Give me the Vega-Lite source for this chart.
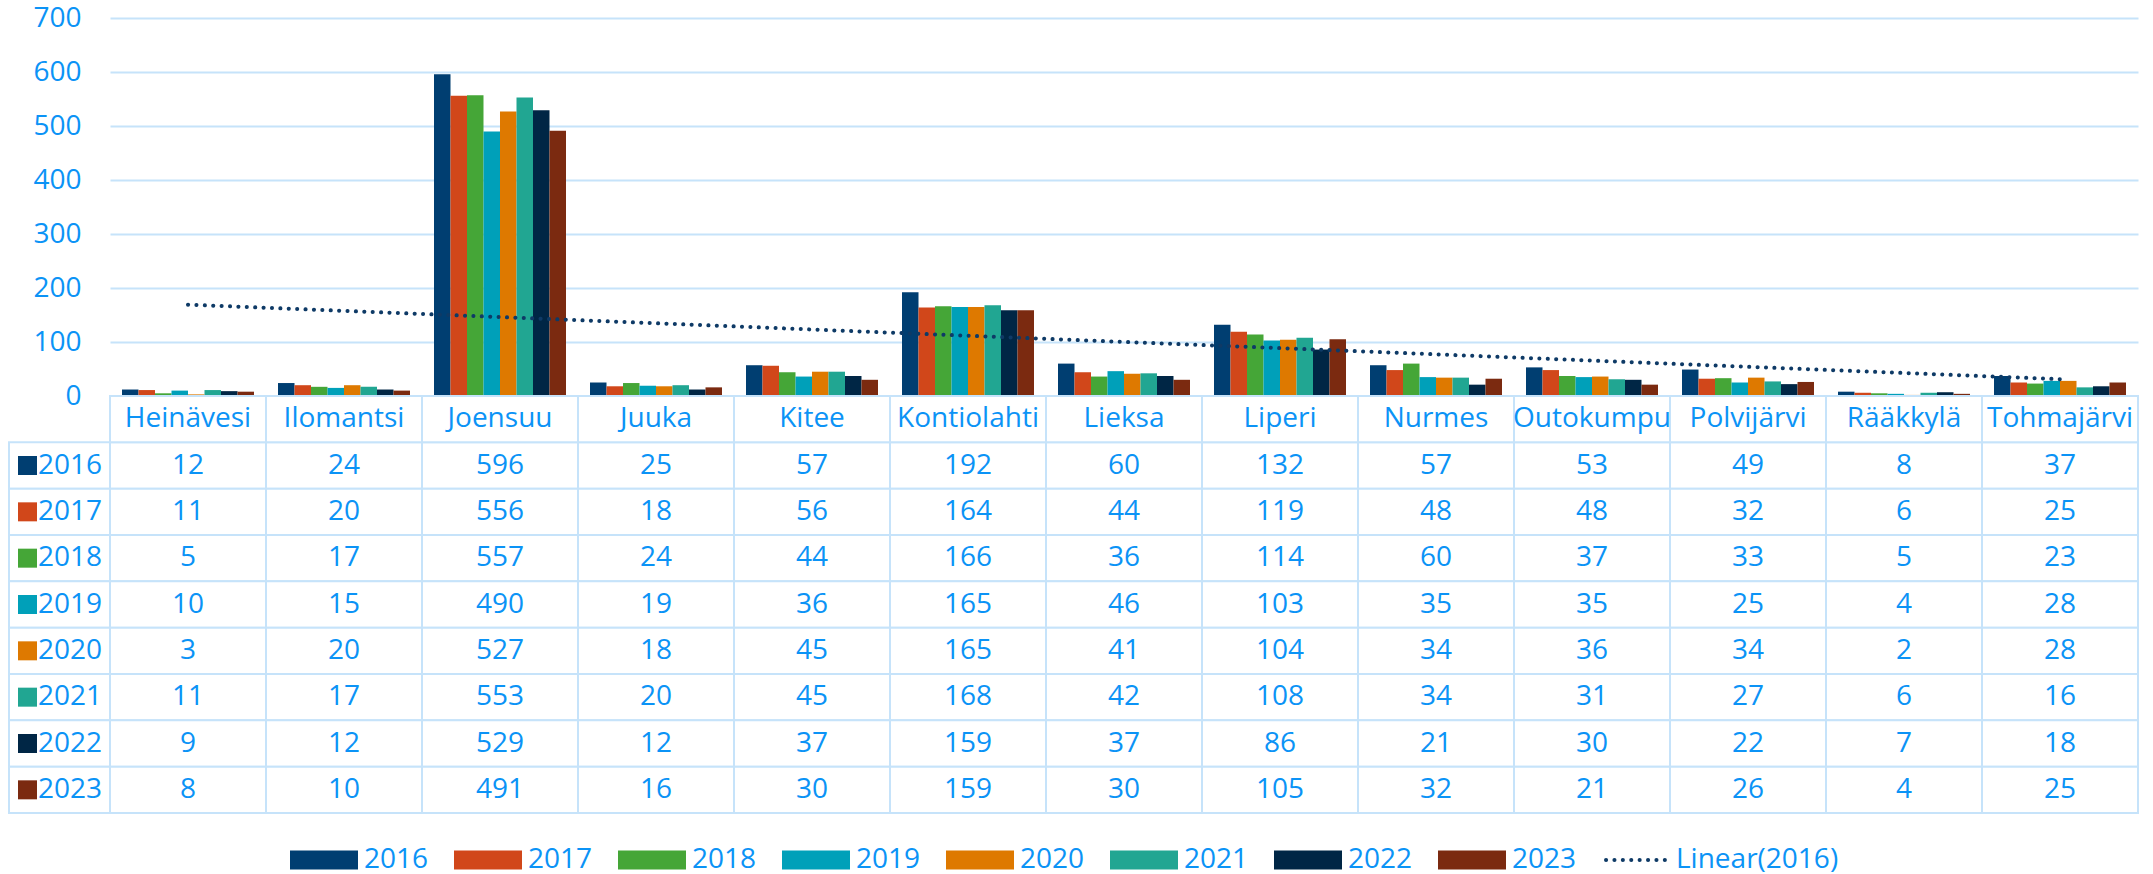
{
  "$schema": "https://vega.github.io/schema/vega-lite/v6.json",
  "background": "white",
  "padding": {"left": 8, "top": 4, "right": 16, "bottom": 0},
  "bounds": "flush",
  "spacing": 0,
  "columns": 2,
  "datasets": {
    "counts": [
      {"municipality": "Heinävesi", "year": "2016", "value": 12},
      {"municipality": "Ilomantsi", "year": "2016", "value": 24},
      {"municipality": "Joensuu", "year": "2016", "value": 596},
      {"municipality": "Juuka", "year": "2016", "value": 25},
      {"municipality": "Kitee", "year": "2016", "value": 57},
      {"municipality": "Kontiolahti", "year": "2016", "value": 192},
      {"municipality": "Lieksa", "year": "2016", "value": 60},
      {"municipality": "Liperi", "year": "2016", "value": 132},
      {"municipality": "Nurmes", "year": "2016", "value": 57},
      {"municipality": "Outokumpu", "year": "2016", "value": 53},
      {"municipality": "Polvijärvi", "year": "2016", "value": 49},
      {"municipality": "Rääkkylä", "year": "2016", "value": 8},
      {"municipality": "Tohmajärvi", "year": "2016", "value": 37},
      {"municipality": "Heinävesi", "year": "2017", "value": 11},
      {"municipality": "Ilomantsi", "year": "2017", "value": 20},
      {"municipality": "Joensuu", "year": "2017", "value": 556},
      {"municipality": "Juuka", "year": "2017", "value": 18},
      {"municipality": "Kitee", "year": "2017", "value": 56},
      {"municipality": "Kontiolahti", "year": "2017", "value": 164},
      {"municipality": "Lieksa", "year": "2017", "value": 44},
      {"municipality": "Liperi", "year": "2017", "value": 119},
      {"municipality": "Nurmes", "year": "2017", "value": 48},
      {"municipality": "Outokumpu", "year": "2017", "value": 48},
      {"municipality": "Polvijärvi", "year": "2017", "value": 32},
      {"municipality": "Rääkkylä", "year": "2017", "value": 6},
      {"municipality": "Tohmajärvi", "year": "2017", "value": 25},
      {"municipality": "Heinävesi", "year": "2018", "value": 5},
      {"municipality": "Ilomantsi", "year": "2018", "value": 17},
      {"municipality": "Joensuu", "year": "2018", "value": 557},
      {"municipality": "Juuka", "year": "2018", "value": 24},
      {"municipality": "Kitee", "year": "2018", "value": 44},
      {"municipality": "Kontiolahti", "year": "2018", "value": 166},
      {"municipality": "Lieksa", "year": "2018", "value": 36},
      {"municipality": "Liperi", "year": "2018", "value": 114},
      {"municipality": "Nurmes", "year": "2018", "value": 60},
      {"municipality": "Outokumpu", "year": "2018", "value": 37},
      {"municipality": "Polvijärvi", "year": "2018", "value": 33},
      {"municipality": "Rääkkylä", "year": "2018", "value": 5},
      {"municipality": "Tohmajärvi", "year": "2018", "value": 23},
      {"municipality": "Heinävesi", "year": "2019", "value": 10},
      {"municipality": "Ilomantsi", "year": "2019", "value": 15},
      {"municipality": "Joensuu", "year": "2019", "value": 490},
      {"municipality": "Juuka", "year": "2019", "value": 19},
      {"municipality": "Kitee", "year": "2019", "value": 36},
      {"municipality": "Kontiolahti", "year": "2019", "value": 165},
      {"municipality": "Lieksa", "year": "2019", "value": 46},
      {"municipality": "Liperi", "year": "2019", "value": 103},
      {"municipality": "Nurmes", "year": "2019", "value": 35},
      {"municipality": "Outokumpu", "year": "2019", "value": 35},
      {"municipality": "Polvijärvi", "year": "2019", "value": 25},
      {"municipality": "Rääkkylä", "year": "2019", "value": 4},
      {"municipality": "Tohmajärvi", "year": "2019", "value": 28},
      {"municipality": "Heinävesi", "year": "2020", "value": 3},
      {"municipality": "Ilomantsi", "year": "2020", "value": 20},
      {"municipality": "Joensuu", "year": "2020", "value": 527},
      {"municipality": "Juuka", "year": "2020", "value": 18},
      {"municipality": "Kitee", "year": "2020", "value": 45},
      {"municipality": "Kontiolahti", "year": "2020", "value": 165},
      {"municipality": "Lieksa", "year": "2020", "value": 41},
      {"municipality": "Liperi", "year": "2020", "value": 104},
      {"municipality": "Nurmes", "year": "2020", "value": 34},
      {"municipality": "Outokumpu", "year": "2020", "value": 36},
      {"municipality": "Polvijärvi", "year": "2020", "value": 34},
      {"municipality": "Rääkkylä", "year": "2020", "value": 2},
      {"municipality": "Tohmajärvi", "year": "2020", "value": 28},
      {"municipality": "Heinävesi", "year": "2021", "value": 11},
      {"municipality": "Ilomantsi", "year": "2021", "value": 17},
      {"municipality": "Joensuu", "year": "2021", "value": 553},
      {"municipality": "Juuka", "year": "2021", "value": 20},
      {"municipality": "Kitee", "year": "2021", "value": 45},
      {"municipality": "Kontiolahti", "year": "2021", "value": 168},
      {"municipality": "Lieksa", "year": "2021", "value": 42},
      {"municipality": "Liperi", "year": "2021", "value": 108},
      {"municipality": "Nurmes", "year": "2021", "value": 34},
      {"municipality": "Outokumpu", "year": "2021", "value": 31},
      {"municipality": "Polvijärvi", "year": "2021", "value": 27},
      {"municipality": "Rääkkylä", "year": "2021", "value": 6},
      {"municipality": "Tohmajärvi", "year": "2021", "value": 16},
      {"municipality": "Heinävesi", "year": "2022", "value": 9},
      {"municipality": "Ilomantsi", "year": "2022", "value": 12},
      {"municipality": "Joensuu", "year": "2022", "value": 529},
      {"municipality": "Juuka", "year": "2022", "value": 12},
      {"municipality": "Kitee", "year": "2022", "value": 37},
      {"municipality": "Kontiolahti", "year": "2022", "value": 159},
      {"municipality": "Lieksa", "year": "2022", "value": 37},
      {"municipality": "Liperi", "year": "2022", "value": 86},
      {"municipality": "Nurmes", "year": "2022", "value": 21},
      {"municipality": "Outokumpu", "year": "2022", "value": 30},
      {"municipality": "Polvijärvi", "year": "2022", "value": 22},
      {"municipality": "Rääkkylä", "year": "2022", "value": 7},
      {"municipality": "Tohmajärvi", "year": "2022", "value": 18},
      {"municipality": "Heinävesi", "year": "2023", "value": 8},
      {"municipality": "Ilomantsi", "year": "2023", "value": 10},
      {"municipality": "Joensuu", "year": "2023", "value": 491},
      {"municipality": "Juuka", "year": "2023", "value": 16},
      {"municipality": "Kitee", "year": "2023", "value": 30},
      {"municipality": "Kontiolahti", "year": "2023", "value": 159},
      {"municipality": "Lieksa", "year": "2023", "value": 30},
      {"municipality": "Liperi", "year": "2023", "value": 105},
      {"municipality": "Nurmes", "year": "2023", "value": 32},
      {"municipality": "Outokumpu", "year": "2023", "value": 21},
      {"municipality": "Polvijärvi", "year": "2023", "value": 26},
      {"municipality": "Rääkkylä", "year": "2023", "value": 4},
      {"municipality": "Tohmajärvi", "year": "2023", "value": 25}
    ],
    "trend": [
      {"municipality": "Heinävesi", "trend": 169.2},
      {"municipality": "Tohmajärvi", "trend": 31.1}
    ],
    "munis": [
      {"municipality": "Heinävesi"}, {"municipality": "Ilomantsi"}, {"municipality": "Joensuu"},
      {"municipality": "Juuka"}, {"municipality": "Kitee"}, {"municipality": "Kontiolahti"},
      {"municipality": "Lieksa"}, {"municipality": "Liperi"}, {"municipality": "Nurmes"},
      {"municipality": "Outokumpu"}, {"municipality": "Polvijärvi"}, {"municipality": "Rääkkylä"},
      {"municipality": "Tohmajärvi"}
    ],
    "years": [
      {"year": "2016"}, {"year": "2017"}, {"year": "2018"}, {"year": "2019"},
      {"year": "2020"}, {"year": "2021"}, {"year": "2022"}, {"year": "2023"}
    ]
  },
  "concat": [
    {
      "width": 101,
      "height": 378,
      "data": {"values": [{"t": ""}]},
      "mark": {"type": "text"},
      "encoding": {"text": {"field": "t", "type": "nominal"}}
    },
    {
      "width": 2028,
      "height": 378,
      "layer": [
        {
          "data": {"name": "counts"},
          "mark": {"type": "bar"},
          "encoding": {
            "x": {
              "field": "municipality", "type": "nominal",
              "scale": {
                "domain": ["Heinävesi", "Ilomantsi", "Joensuu", "Juuka", "Kitee", "Kontiolahti", "Lieksa", "Liperi", "Nurmes", "Outokumpu", "Polvijärvi", "Rääkkylä", "Tohmajärvi"],
                "paddingInner": 0.15385, "paddingOuter": 0.076923
              },
              "axis": null
            },
            "xOffset": {"field": "year", "type": "nominal", "scale": {"paddingInner": 0, "paddingOuter": 0}},
            "y": {
              "field": "value", "type": "quantitative",
              "scale": {"domain": [0, 700], "nice": false},
              "axis": {
                "values": [0, 100, 200, 300, 400, 500, 600, 700],
                "grid": true, "gridColor": "#C6E3FA", "gridWidth": 2,
                "domain": false, "ticks": false, "title": null,
                "labelFont": "Open Sans", "labelFontSize": 28, "labelColor": "#0B93F6",
                "labelPadding": 29
              }
            },
            "color": {
              "field": "year", "type": "nominal",
              "scale": {
                "domain": ["2016", "2017", "2018", "2019", "2020", "2021", "2022", "2023", "Linear(2016)"],
                "range": ["#003E71", "#D1471A", "#45A637", "#00A0B9", "#DE7900", "#21A692", "#002645", "#7B2A10", "#0E3A66"]
              },
              "legend": {
                "orient": "none", "legendX": 277, "legendY": 828,
                "direction": "horizontal", "columns": 9, "title": null,
                "symbolType": "M-1,-0.95H5.8V0.95H-1Z", "symbolSize": 400,
                "symbolStrokeWidth": 0, "symbolOpacity": 1,
                "labelFont": "Open Sans", "labelFontSize": 28, "labelColor": "#0B93F6",
                "labelOffset": 50, "labelLimit": 400, "columnPadding": 21,
                "encode": {
                  "symbols": {
                    "update": {
                      "shape": {"signal": "datum.label == 'Linear(2016)' ? 'M-0.6,0H5.4' : 'M-1,-0.95H5.8V0.95H-1Z'"},
                      "strokeWidth": {"signal": "datum.label == 'Linear(2016)' ? 4 : 0"},
                      "stroke": {"value": "#0E3A66"},
                      "strokeDash": {"value": [0.1, 8.3]},
                      "strokeCap": {"value": "round"},
                      "fillOpacity": {"signal": "datum.label == 'Linear(2016)' ? 0 : 1"}
                    }
                  }
                }
              }
            }
          }
        },
        {
          "data": {"name": "trend"},
          "mark": {"type": "line", "color": "#0E3A66", "strokeDash": [0.1, 8.3], "strokeCap": "round", "strokeWidth": 4},
          "encoding": {
            "x": {"field": "municipality", "type": "nominal"},
            "y": {"field": "trend", "type": "quantitative"}
          }
        }
      ]
    },
    {
      "width": 101,
      "height": 417,
      "data": {"name": "years"},
      "layer": [
        {
          "mark": {"type": "rect", "fill": "white", "stroke": "#C6E3FA", "strokeWidth": 2},
          "encoding": {
            "y": {
              "field": "year", "type": "nominal",
              "scale": {"domain": ["header", "2016", "2017", "2018", "2019", "2020", "2021", "2022", "2023"], "paddingInner": 0, "paddingOuter": 0},
              "axis": null
            }
          }
        },
        {
          "mark": {"type": "point", "shape": "square", "filled": true, "size": 361, "opacity": 1, "xOffset": -32},
          "encoding": {
            "y": {"field": "year", "type": "nominal"},
            "color": {"field": "year", "type": "nominal"}
          }
        },
        {
          "mark": {"type": "text", "align": "left", "dx": -21.5, "font": "Open Sans", "fontSize": 28, "color": "#0B93F6"},
          "encoding": {
            "y": {"field": "year", "type": "nominal"},
            "text": {"field": "year", "type": "nominal"}
          }
        }
      ]
    },
    {
      "width": 2028,
      "height": 417,
      "layer": [
        {
          "data": {"name": "counts"},
          "mark": {"type": "rect", "fill": "white", "stroke": "#C6E3FA", "strokeWidth": 2},
          "encoding": {
            "x": {
              "field": "municipality", "type": "nominal",
              "scale": {
                "domain": ["Heinävesi", "Ilomantsi", "Joensuu", "Juuka", "Kitee", "Kontiolahti", "Lieksa", "Liperi", "Nurmes", "Outokumpu", "Polvijärvi", "Rääkkylä", "Tohmajärvi"],
                "paddingInner": 0, "paddingOuter": 0
              },
              "axis": null
            },
            "y": {
              "field": "year", "type": "nominal",
              "scale": {"domain": ["header", "2016", "2017", "2018", "2019", "2020", "2021", "2022", "2023"], "paddingInner": 0, "paddingOuter": 0},
              "axis": null
            }
          }
        },
        {
          "data": {"name": "munis"},
          "mark": {"type": "rect", "fill": "white", "stroke": "#C6E3FA", "strokeWidth": 2},
          "encoding": {
            "x": {"field": "municipality", "type": "nominal"},
            "y": {"datum": "header", "type": "nominal"}
          }
        },
        {
          "data": {"name": "counts"},
          "mark": {"type": "text", "font": "Open Sans", "fontSize": 28, "color": "#0B93F6"},
          "encoding": {
            "x": {"field": "municipality", "type": "nominal"},
            "y": {"field": "year", "type": "nominal"},
            "text": {"field": "value", "type": "quantitative"}
          }
        },
        {
          "data": {"name": "munis"},
          "mark": {"type": "text", "font": "Open Sans", "fontSize": 28, "color": "#0B93F6"},
          "encoding": {
            "x": {"field": "municipality", "type": "nominal"},
            "y": {"datum": "header", "type": "nominal"},
            "text": {"field": "municipality", "type": "nominal"}
          }
        }
      ]
    }
  ],
  "resolve": {"scale": {"x": "independent", "y": "independent", "xOffset": "independent"}},
  "config": {
    "view": {"stroke": null},
    "font": "Open Sans"
  }
}
